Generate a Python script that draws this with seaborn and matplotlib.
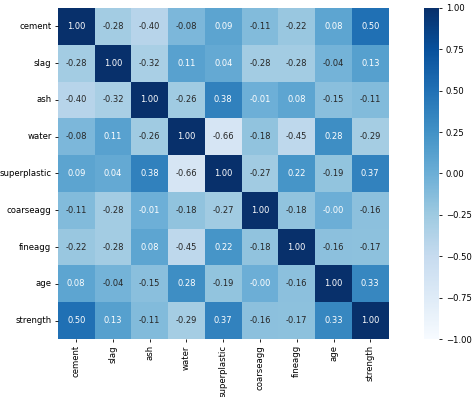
import matplotlib
matplotlib.use('Agg')
import matplotlib.pyplot as plt
import seaborn as sns
import pandas as pd
import numpy as np

# tên các cột trong bộ dữ liệu bê tông
features = ['cement', 'slag', 'ash', 'water', 'superplastic',
            'coarseagg', 'fineagg', 'age', 'strength']

# ma trận tương quan
cement = [1.00, -0.28, -0.40, -0.08, 0.09, -0.11, -0.22, 0.08, 0.50]
slag = [-0.28, 1.00, -0.32, 0.11, 0.04, -0.28, -0.28, -0.04, 0.13]
ash = [-0.40, -0.32, 1.00, -0.26, 0.38, -0.01, 0.08, -0.15, -0.11]
water = [-0.08, 0.11, -0.26, 1.00, -0.66, -0.18, -0.45, 0.28, -0.29]
superplastic = [0.09, 0.04, 0.38, -0.66, 1.00, -0.27, 0.22, -0.19, 0.37]
coarseagg = [-0.11, -0.28, -0.01, -0.18, -0.27, 1.00, -0.18, -0.004, -0.16]
fineagg = [-0.22, -0.28, 0.08, -0.45, 0.22, -0.18, 1.00, -0.16, -0.17]
age = [0.08, -0.04, -0.15, 0.28, -0.19, -0.004, -0.16, 1.00, 0.33]
strength = [0.50, 0.13, -0.11, -0.29, 0.37, -0.16, -0.17, 0.33, 1.00]

corr = pd.DataFrame([cement, slag, ash, water, superplastic,
                     coarseagg, fineagg, age, strength],
                    index=features, columns=features)

fig = plt.figure(figsize=(4.74, 3.97), dpi=100)
ax = fig.add_axes([0.122, 0.146, 0.698, 0.834])
cax = fig.add_axes([0.895, 0.146, 0.032, 0.834])

sns.heatmap(corr, annot=True, fmt='.2f', cmap='Blues', vmin=-1, vmax=1,
            square=True, ax=ax, cbar_ax=cax, annot_kws={'size': 6.0})

ax.tick_params(labelsize=6.1, length=2.5, width=0.6, pad=2)
ax.set_xticklabels(features, rotation=90)
ax.set_yticklabels(features, rotation=0)
cax.tick_params(labelsize=6.1, length=2.5, width=0.6, pad=2)
cax.set_yticks(np.arange(-1, 1.01, 0.25))
cax.set_yticklabels([f'{t:.2f}'.replace('-', '\u2212') for t in np.arange(-1, 1.01, 0.25)])
cax.spines[:].set_visible(False)

plt.savefig('out.png', dpi=100)
